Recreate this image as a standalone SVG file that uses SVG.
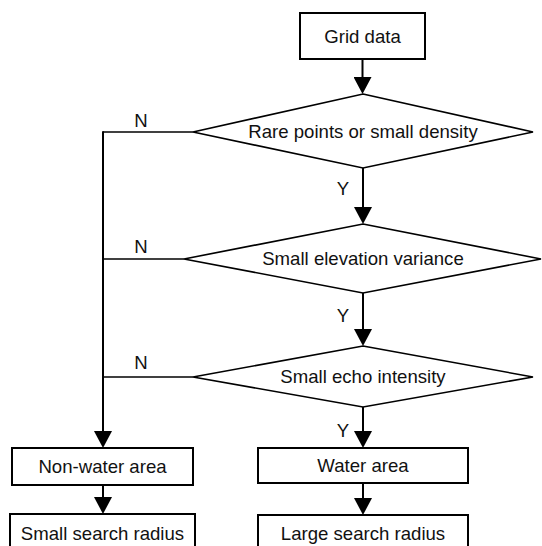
<svg xmlns="http://www.w3.org/2000/svg" width="542" height="546" viewBox="0 0 542 546">
<style>
  .box{fill:#fff;stroke:#000;stroke-width:2}
  .dia{fill:#fff;stroke:#000;stroke-width:1.6;stroke-linejoin:miter}
  .t{font-family:"Liberation Sans",Arial,sans-serif;font-size:18.6px;fill:#111;text-anchor:middle}
  .lbl{font-family:"Liberation Sans",Arial,sans-serif;font-size:18.6px;fill:#111;text-anchor:middle}
  .c{fill:none;stroke:#000;stroke-width:2}
  .n{fill:none;stroke:#000;stroke-width:1.6}
</style>
<defs>
  <marker id="ah" markerUnits="userSpaceOnUse" markerWidth="18" markerHeight="18" refX="8" refY="9" orient="auto" viewBox="0 0 18 18">
    <path d="M0,0 L17,9 L0,18 z" fill="#000"/>
  </marker>
</defs>
<g id="connectors">
  <line class="c" x1="362.5" y1="59" x2="362.5" y2="85" marker-end="url(#ah)"/>
  <line class="c" x1="363" y1="168" x2="363" y2="215" marker-end="url(#ah)"/>
  <line class="c" x1="363" y1="293" x2="363" y2="337" marker-end="url(#ah)"/>
  <line class="c" x1="363" y1="407" x2="363" y2="439" marker-end="url(#ah)"/>
  <line class="c" x1="363" y1="483" x2="363" y2="506" marker-end="url(#ah)"/>
  <line class="c" x1="103" y1="485" x2="103" y2="505" marker-end="url(#ah)"/>
  <polyline class="n" points="193,132 103,132"/>
  <line class="c" x1="103" y1="131.2" x2="103" y2="439" marker-end="url(#ah)"/>
  <line class="n" x1="184" y1="259" x2="103" y2="259"/>
  <line class="n" x1="193" y1="377" x2="103" y2="377"/>
  <text class="lbl" x="141" y="127">N</text>
  <text class="lbl" x="141" y="253">N</text>
  <text class="lbl" x="141" y="369">N</text>
  <text class="lbl" x="343" y="195">Y</text>
  <text class="lbl" x="343" y="322">Y</text>
  <text class="lbl" x="343" y="437">Y</text>
</g>
<g id="grid-data">
  <rect class="box" x="300" y="13" width="125" height="46"/>
  <text class="t" x="362.5" y="42.5">Grid data</text>
</g>
<g id="rare-points">
  <polygon class="dia" points="363,94 533,132 363,168 193,132"/>
  <text class="t" x="363" y="138">Rare points or small density</text>
</g>
<g id="elevation-variance">
  <polygon class="dia" points="363,224 541,259 363,293 184,259"/>
  <text class="t" x="363" y="265">Small elevation variance</text>
</g>
<g id="echo-intensity">
  <polygon class="dia" points="363,346 533,377 363,407 193,377"/>
  <text class="t" x="363" y="383">Small echo intensity</text>
</g>
<g id="non-water">
  <rect class="box" x="12" y="448" width="181" height="37"/>
  <text class="t" x="102.5" y="473">Non-water area</text>
</g>
<g id="water">
  <rect class="box" x="258" y="448" width="210" height="35"/>
  <text class="t" x="363" y="472">Water area</text>
</g>
<g id="small-radius">
  <rect class="box" x="10" y="514" width="185" height="40"/>
  <text class="t" x="102.5" y="540">Small search radius</text>
</g>
<g id="large-radius">
  <rect class="box" x="258" y="515" width="210" height="40"/>
  <text class="t" x="363" y="540">Large search radius</text>
</g>
</svg>
